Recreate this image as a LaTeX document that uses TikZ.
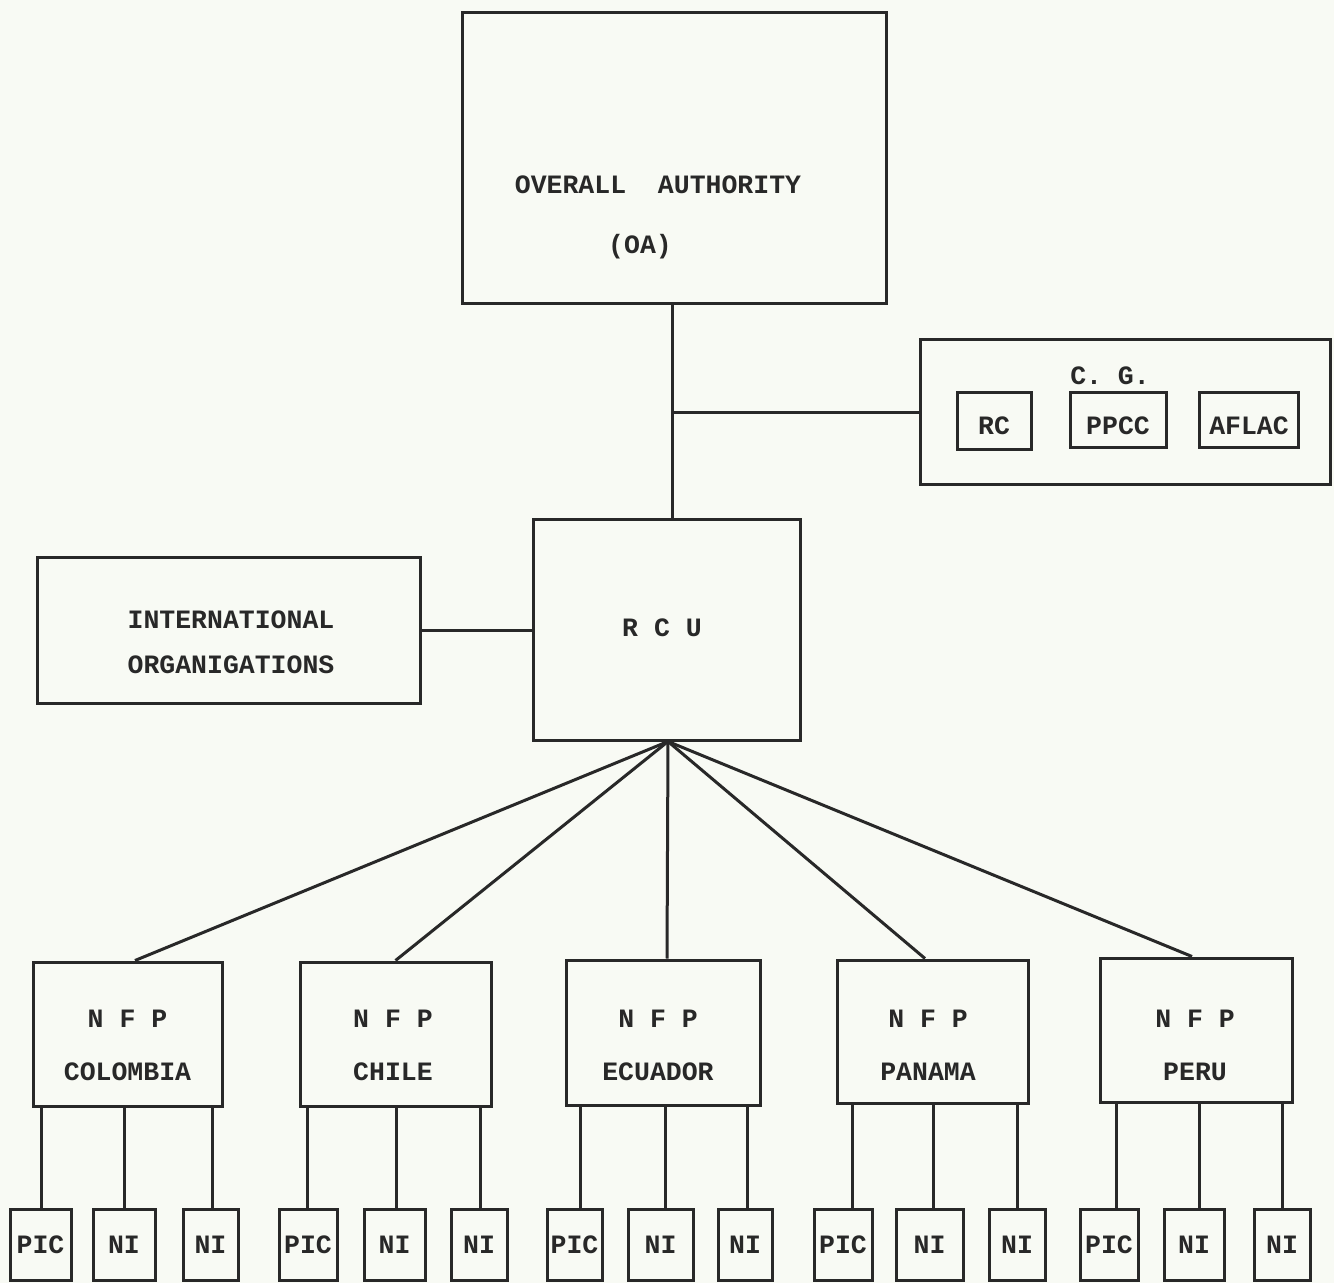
\documentclass[tikz,border=0pt]{standalone}
\usepackage{fontspec}
\setmonofont{Liberation Mono}
\definecolor{ink}{RGB}{40,40,40}
\definecolor{paper}{RGB}{248,250,244}
\begin{document}
\begin{tikzpicture}[x=0.5pt,y=-0.5pt,
  every node/.style={font=\ttfamily\bfseries\fontsize{13.25}{26.5}\selectfont, text=ink},
  box/.style={draw=ink, line width=1.5pt, inner sep=0pt, align=center},
  lbl/.style={align=center, inner sep=0pt},
  link/.style={draw=ink, line width=1.5pt}]
\fill[paper] (0,0) rectangle (1334,1283);
\useasboundingbox (0,0) rectangle (1334,1283);

% Overall authority
\node[box, minimum width=212pt, minimum height=145.5pt] (oa) at (674,158.5) {};
\node[lbl] (oat1) at (658,185) {OVERALL~~AUTHORITY};
\node[lbl] (oat2) at (640,247) {(OA)};

% C.G. group
\node[box, minimum width=205pt, minimum height=72.5pt] (cg) at (1125,412.5) {};
\node[lbl] (cgt) at (1110,376) {C.~G.};
\node[box, minimum width=37pt, minimum height=28.5pt] (rc) at (994,421.5) {};
\node[lbl] (rct) at (994,426) {RC};
\node[box, minimum width=48pt, minimum height=27.5pt] (ppcc) at (1118,420.5) {};
\node[lbl] (ppcct) at (1118,426) {PPCC};
\node[box, minimum width=49.5pt, minimum height=27.5pt] (aflac) at (1248.5,420.5) {};
\node[lbl] (aflact) at (1249,426) {AFLAC};

% RCU and international organisations
\node[box, minimum width=133.5pt, minimum height=110pt] (rcu) at (666.5,630) {};
\node[lbl] (rcut) at (662,628) {R C U};
\node[box, minimum width=191.5pt, minimum height=72.5pt] (io) at (228.5,630.5) {};
\node[lbl] (iot) at (231,642.5) {INTERNATIONAL\\[-4pt]ORGANIGATIONS};

\draw[link] ([xshift=-1pt]oa.south) -- ([xshift=-1pt]oa.south |- rcu.north);
\coordinate (j) at ([xshift=-1pt]oa.south |- cg.west);
\draw[link] (j) -- (cg.west);
\draw[link] (io.east) -- (io.east -| rcu.west);

% NFP boxes
\node[box, minimum width=94.5pt, minimum height=72pt] (col) at (127.5,1034) {};
\node[box, minimum width=95.5pt, minimum height=72pt] (chi) at (395.5,1034) {};
\node[box, minimum width=97pt, minimum height=72.5pt] (ecu) at (663,1032.5) {};
\node[box, minimum width=95.5pt, minimum height=71.5pt] (pan) at (932.5,1031.5) {};
\node[box, minimum width=96pt, minimum height=72pt] (per) at (1196,1030) {};
\foreach \n/\cx/\t in {col/127.5/COLOMBIA, chi/393/CHILE, ecu/658/ECUADOR, pan/928/PANAMA, per/1195/PERU}
  \node[lbl] (\n t) at (\cx,1045.5) {N F P\\\t};

\coordinate (fan) at ([xshift=0.75pt]rcu.south);
\foreach \n/\dx in {col/3.75, chi/0, ecu/2, pan/-3.75, per/-2}
  \draw[link] (fan) -- ([xshift=\dx pt]\n.north);

% Leaves: name / centre x / width / text / parent / connector x
\foreach \name/\cx/\w/\t/\p/\lx in {
  c1/40.5/30.5/PIC/col/41, c2/124/31/NI/col/124, c3/210.5/27.5/NI/col/212,
  h1/308/29/PIC/chi/307, h2/394.5/30.5/NI/chi/396, h3/479/28/NI/chi/480,
  e1/574.5/27.5/PIC/ecu/580, e2/660.5/32.5/NI/ecu/665, e3/745/27/NI/ecu/747,
  p1/843/29/PIC/pan/852, p2/929.5/33.5/NI/pan/933, p3/1017/28/NI/pan/1017,
  r1/1109/29/PIC/per/1116, r2/1194/30/NI/per/1199, r3/1282/28/NI/per/1282}
{
  \node[box, minimum width=\w pt, minimum height=35.5pt] (\name) at (\cx,1245) {\t};
  \draw[link] (\lx,0 |- \p.south) -- (\lx,0 |- \name.north);
}
\end{tikzpicture}
\end{document}
